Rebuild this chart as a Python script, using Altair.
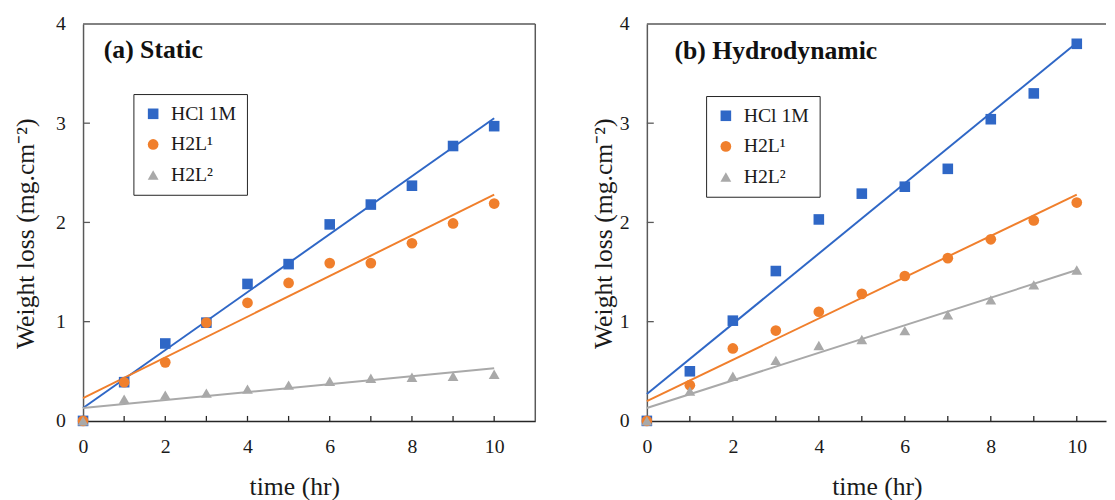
import altair as alt
import pandas as pd

# ---------------- data ----------------
series = ["HCl 1M", "H2L¹", "H2L²"]
colors = ["#2F67C6", "#F07F2C", "#A9A9A9"]
shapes = ["square", "circle", "triangle-up"]
sizes = [115, 120, 70]

hours = [0, 1, 2, 3, 4, 5, 6, 7, 8, 9, 10]

static_hcl = [0, 0.39, 0.78, 0.99, 1.38, 1.58, 1.98, 2.18, 2.37, 2.77, 2.97]
static_h2l1 = [0, 0.39, 0.59, 0.99, 1.19, 1.39, 1.59, 1.59, 1.79, 1.99, 2.19]
static_h2l2 = [0, 0.22, 0.26, 0.28, 0.32, 0.36, 0.40, 0.43, 0.44, 0.45, 0.47]

hydro_hcl = [0, 0.50, 1.01, 1.51, 2.03, 2.29, 2.36, 2.54, 3.04, 3.30, 3.80]
hydro_h2l1 = [0, 0.36, 0.73, 0.91, 1.10, 1.28, 1.46, 1.64, 1.83, 2.02, 2.20]
hydro_h2l2 = [0, 0.30, 0.45, 0.61, 0.76, 0.82, 0.91, 1.07, 1.22, 1.37, 1.52]

# linear trend lines: value at start and end hour
fit_hours = [0, 10]
static_fit_start = [0.13, 0.23, 0.13]
static_fit_end = [3.05, 2.28, 0.53]
hydro_fit_start = [0.27, 0.20, 0.13]
hydro_fit_end = [3.81, 2.28, 1.52]

x_label_values = [0, 2, 4, 6, 8, 10]
x_minor_ticks = [1, 2, 3, 4, 5, 6, 7, 8, 9, 10]
y_label_values = [0, 1, 2, 3, 4]
y_minor_ticks = [1, 2, 3]

FONT = "Liberation Serif"
TXT = "#1a1a1a"
FRAME = "#595959"


def points_df(a, b, c):
    rows = []
    for i, (name, vals) in enumerate(zip(series, [a, b, c])):
        for h, v in zip(hours, vals):
            rows.append({"hour": h, "loss": v, "series": name, "order": i})
    return pd.DataFrame(rows)


def fit_df(starts, ends):
    rows = []
    for name, s, e in zip(series, starts, ends):
        rows.append({"hour": fit_hours[0], "loss": s, "series": name})
        rows.append({"hour": fit_hours[1], "loss": e, "series": name})
    return pd.DataFrame(rows)


def panel(pts, fits, title, width, xmax, legend_x, legend_y, ytitle_pad,
          xtitle_x, title_dx, title_dy, full_frame):
    height = 402
    xs = alt.Scale(domain=[0, xmax], nice=False, zero=False)
    ys = alt.Scale(domain=[0, 4], nice=False)

    x_axis = alt.Axis(values=x_label_values, ticks=False, grid=False, labelFlush=False,
                      domainColor="#262626", domainWidth=1.5,
                      labelFont=FONT, labelFontSize=20, labelColor=TXT, labelPadding=16,
                      title="time (hr)", titleFont=FONT, titleFontSize=26,
                      titleFontWeight="normal", titleColor=TXT, titlePadding=18,
                      titleX=xtitle_x)
    y_axis = alt.Axis(values=y_label_values, ticks=False, grid=False,
                      domainColor=FRAME, domainWidth=1.5,
                      labelFont=FONT, labelFontSize=20, labelColor=TXT, labelPadding=18,
                      title="Weight loss (mg.cm⁻²)", titleFont=FONT, titleFontSize=26,
                      titleFontWeight="normal", titleColor=TXT, titlePadding=ytitle_pad,
                      titleY=212)

    legend = alt.Legend(title=None, orient="none", legendX=legend_x, legendY=legend_y,
                        strokeColor="#222222", fillColor="white", padding=10,
                        labelFont=FONT, labelFontSize=20, labelColor=TXT,
                        symbolSize=110, rowPadding=11, labelOffset=8)

    layers = []
    # one trend line per series, coloured like its markers
    for name, col in zip(series, colors):
        layers.append(
            alt.Chart(fits).transform_filter(alt.datum.series == name)
            .mark_line(strokeWidth=2, color=col).encode(
                x=alt.X("hour:Q", scale=xs, axis=x_axis),
                y=alt.Y("loss:Q", scale=ys, axis=y_axis),
            )
        )

    points = alt.Chart(pts).mark_point(filled=True, opacity=1).encode(
        x=alt.X("hour:Q", scale=xs, axis=x_axis),
        y=alt.Y("loss:Q", scale=ys, axis=y_axis),
        color=alt.Color("series:N", scale=alt.Scale(domain=series, range=colors),
                        legend=legend),
        shape=alt.Shape("series:N", scale=alt.Scale(domain=series, range=shapes),
                        legend=legend),
        size=alt.Size("series:N", scale=alt.Scale(domain=series, range=sizes),
                      legend=legend),
        order=alt.Order("order:Q"),
    )
    layers.append(points)

    one = pd.DataFrame({"k": [0]})
    xt = pd.DataFrame({"hour": x_minor_ticks})
    yt = pd.DataFrame({"loss": y_minor_ticks})

    layers.append(alt.Chart(xt).mark_rule(color="#262626", strokeWidth=1.3).encode(
        x=alt.X("hour:Q", scale=xs, axis=x_axis),
        y=alt.value(height), y2=alt.value(height - 5),
    ))
    layers.append(alt.Chart(yt).mark_rule(color=FRAME, strokeWidth=1.3).encode(
        y=alt.Y("loss:Q", scale=ys, axis=y_axis),
        x=alt.value(0), x2=alt.value(7),
    ))

    layers.append(alt.Chart(one).mark_rule(color=FRAME, strokeWidth=1.5).encode(
        x=alt.value(0), x2=alt.value(width), y=alt.value(0)))
    if full_frame:
        layers.append(alt.Chart(one).mark_rule(color=FRAME, strokeWidth=1.5).encode(
            x=alt.value(width), y=alt.value(0), y2=alt.value(height)))

    layers.append(alt.Chart(one).mark_text(
        text=title, font=FONT, fontSize=26, fontWeight="bold", color="#111111",
        align="left", baseline="alphabetic",
    ).encode(x=alt.value(title_dx), y=alt.value(title_dy)))

    return alt.layer(*layers).properties(width=width, height=height)


left = panel(points_df(static_hcl, static_h2l1, static_h2l2),
             fit_df(static_fit_start, static_fit_end),
             "(a) Static", 458, 11, 51, 71, 17, 214, 21, 34, True)
right = panel(points_df(hydro_hcl, hydro_h2l1, hydro_h2l2),
              fit_df(hydro_fit_start, hydro_fit_end),
              "(b) Hydrodynamic", 465, 10.68, 60, 73, 3, 233, 28, 35, False)

chart = alt.hconcat(left, right, spacing=55).resolve_scale(
    x="independent", y="independent", color="independent",
    shape="independent", size="independent"
).resolve_legend(
    color="independent", shape="independent", size="independent"
).properties(
    padding={"left": 5, "top": 3, "right": 0, "bottom": 0},
    background="white",
).configure_view(stroke=None)

chart.save("out.html", embed_options={"renderer": "svg", "actions": False})
